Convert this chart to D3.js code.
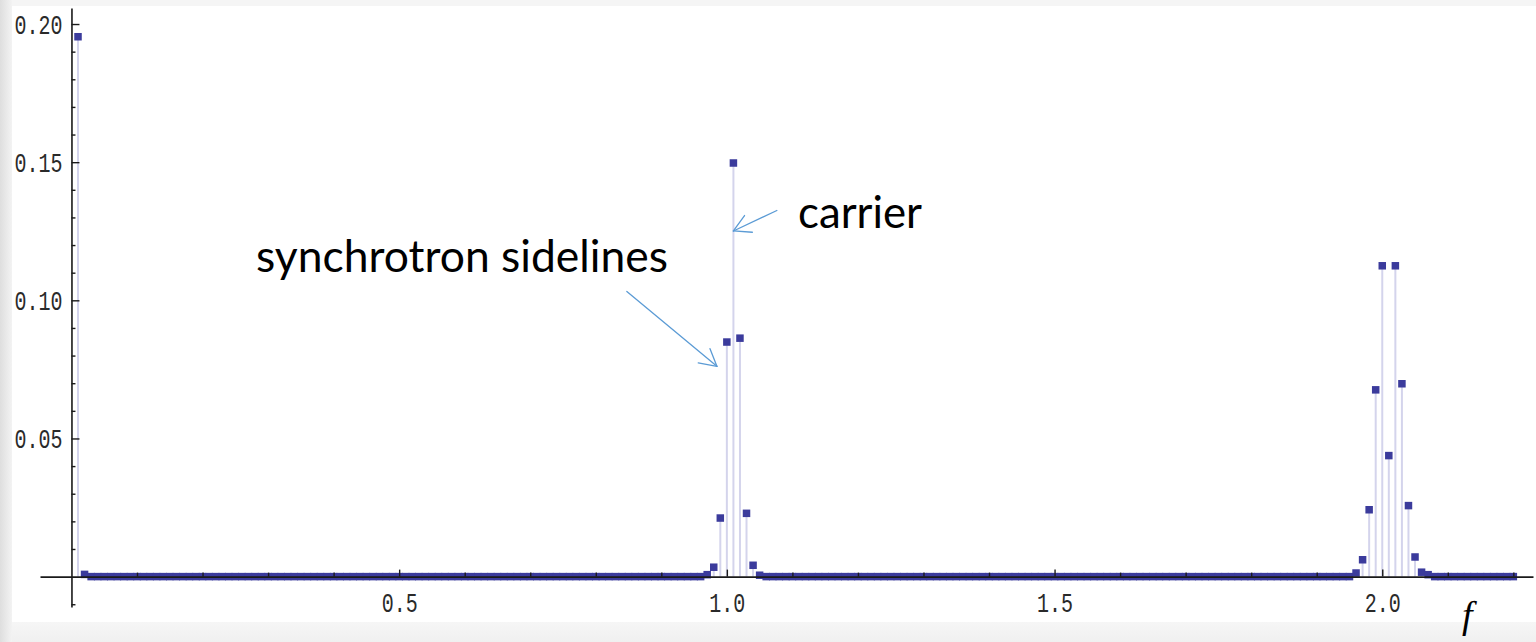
<!DOCTYPE html>
<html>
<head>
<meta charset="utf-8">
<script src="https://cdn.jsdelivr.net/npm/d3@7/dist/d3.min.js"></script>
<style>
  html, body { margin: 0; padding: 0; background: #fff; }
  svg { display: block; }
</style>
</head>
<body>
<svg id="chart" width="1536" height="642"></svg>
<script>
// Spectral bins (frequency step 0.01)
const sampleFreqs = d3.range(1, 221).map(k => k / 100);

// Non-zero spectral lines: frequency and amplitude
const lineFreqs  = [0.01, 0.02,
                    0.97, 0.98, 0.99, 1.00, 1.01, 1.02, 1.03, 1.04, 1.05,
                    1.96, 1.97, 1.98, 1.99, 2.00, 2.01, 2.02, 2.03, 2.04, 2.05, 2.06, 2.07];
const lineValues = [0.1954, 0.0008,
                    0.0007, 0.0034, 0.0212, 0.0849, 0.1497, 0.0863, 0.0229, 0.0041, 0.0005,
                    0.0013, 0.0061, 0.0242, 0.0676, 0.1125, 0.0438, 0.1125, 0.0698, 0.0257, 0.0071, 0.0016, 0.0007];

// Axis ticks
const xMajorTicks  = [0.5, 1.0, 1.5, 2.0];
const xTickLabels  = ["0.5", "1.0", "1.5", "2.0"];
const xMinorTicks  = [0.1, 0.2, 0.3, 0.4, 0.6, 0.7, 0.8, 0.9, 1.1, 1.2, 1.3, 1.4,
                      1.6, 1.7, 1.8, 1.9, 2.1, 2.2];
const yMajorTicks  = [0.05, 0.10, 0.15, 0.20];
const yTickLabels  = ["0.05", "0.10", "0.15", "0.20"];
const yMinorTicks  = [-0.01, 0.01, 0.02, 0.03, 0.04, 0.06, 0.07, 0.08, 0.09,
                      0.11, 0.12, 0.13, 0.14, 0.16, 0.17, 0.18, 0.19];

// Annotation arrows, anchored in data coordinates [f, amplitude]
const annotationTexts = ["carrier", "synchrotron sidelines"];
const arrowTails = [[1.0763, 0.1325], [0.8474, 0.1032]];
const arrowTips  = [[1.0100, 0.1251], [0.9848, 0.0761]];

const spectrum = sampleFreqs.map(f => {
  const i = lineFreqs.findIndex(g => Math.abs(g - f) < 1e-9);
  return { f, v: i >= 0 ? lineValues[i] : 0 };
});

const svg = d3.select("#chart");
const W = 1536, H = 642;

// ---- page frame (soft grey border around the plot image) ----
const defs = svg.append("defs");
const lg = defs.append("linearGradient").attr("id", "leftShade").attr("x1", 0).attr("x2", 1).attr("y1", 0).attr("y2", 0);
lg.append("stop").attr("offset", 0).attr("stop-color", "#dedede");
lg.append("stop").attr("offset", 1).attr("stop-color", "#f3f3f3");
const bg = defs.append("linearGradient").attr("id", "bottomShade").attr("x1", 0).attr("x2", 0).attr("y1", 0).attr("y2", 1);
bg.append("stop").attr("offset", 0).attr("stop-color", "#f6f6f6");
bg.append("stop").attr("offset", 1).attr("stop-color", "#f0f0f0");

svg.append("rect").attr("width", W).attr("height", H).attr("fill", "#fff");
svg.append("rect").attr("x", 0).attr("y", 0).attr("width", W).attr("height", 6).attr("fill", "#f5f5f5");
svg.append("rect").attr("x", 0).attr("y", 622).attr("width", W).attr("height", 20).attr("fill", "url(#bottomShade)");
svg.append("rect").attr("x", 0).attr("y", 0).attr("width", 12).attr("height", H).attr("fill", "url(#leftShade)");

// ---- scales ----
const x = d3.scaleLinear().domain([-0.048, 2.23]).range([40, 1533]);
const y = d3.scaleLinear().domain([-0.011, 0.2058]).range([607, 8]);

// ---- stems ----
svg.append("g").selectAll("line").data(spectrum.filter(d => d.v > 0)).join("line")
  .attr("x1", d => x(d.f)).attr("x2", d => x(d.f))
  .attr("y1", y(0)).attr("y2", d => y(d.v))
  .attr("stroke", "#d4d4ec").attr("stroke-width", 2);

// ---- points ----
const S = 7.5;
svg.append("g").selectAll("rect").data(spectrum).join("rect")
  .attr("x", d => x(d.f) - S / 2).attr("y", d => y(d.v) - S / 2)
  .attr("width", S).attr("height", S)
  .attr("fill", "#3b3b9c");

// ---- axes ----
const labelFont = "'Liberation Mono', 'DejaVu Sans Mono', monospace";
const axisColor = "#1a1a1a";

function styleAxis(g) {
  g.select(".domain").attr("stroke", axisColor).attr("stroke-width", 1.6);
  g.selectAll(".tick line").attr("stroke", axisColor).attr("stroke-width", 1.4);
}

// y axis (labels left, ticks pointing into the plot)
const yAxisG = svg.append("g").attr("transform", `translate(${x(0)},0)`);
yAxisG.call(d3.axisLeft(y).tickValues(yMinorTicks).tickSizeInner(-4).tickSizeOuter(0).tickFormat(""))
  .call(styleAxis);
const yMajorG = svg.append("g").attr("transform", `translate(${x(0)},0)`);
yMajorG.call(d3.axisLeft(y).tickValues(yMajorTicks).tickSizeInner(-8).tickSizeOuter(0)
    .tickFormat((d, i) => yTickLabels[i]))
  .call(styleAxis);
yMajorG.select(".domain").remove();
yMajorG.selectAll(".tick text")
  .attr("x", null).attr("dy", null)
  .attr("transform", "translate(-9,9.5) scale(1,1.42)")
  .attr("text-anchor", "end")
  .style("font-family", labelFont).style("font-size", "20px").attr("fill", "#2a2a2a");

// x axis (labels below, ticks pointing up)
const xAxisG = svg.append("g").attr("transform", `translate(0,${y(0)})`);
xAxisG.call(d3.axisBottom(x).tickValues(xMinorTicks).tickSizeInner(-4).tickSizeOuter(0).tickFormat(""))
  .call(styleAxis);
const xMajorG = svg.append("g").attr("transform", `translate(0,${y(0)})`);
xMajorG.call(d3.axisBottom(x).tickValues(xMajorTicks).tickSizeInner(-7).tickSizeOuter(0)
    .tickFormat((d, i) => xTickLabels[i]))
  .call(styleAxis);
xMajorG.select(".domain").remove();
xMajorG.selectAll(".tick text")
  .attr("y", null).attr("dy", null)
  .attr("transform", "translate(0,35) scale(1,1.42)")
  .attr("text-anchor", "middle")
  .style("font-family", labelFont).style("font-size", "20px").attr("fill", "#2a2a2a");

// axis variable
svg.append("text")
  .attr("x", 1462).attr("y", 628)
  .style("font-family", "'Liberation Serif', 'DejaVu Serif', serif")
  .style("font-style", "italic")
  .style("font-size", "38px")
  .attr("fill", "#000")
  .text("f");

// ---- annotations ----
const textLayout = [
  { x: 798, y: 228, width: 124 },
  { x: 256, y: 272, width: 412 }
];
const annoFont = "Lato, 'Open Sans', sans-serif";
annotationTexts.forEach((t, i) => {
  const L = textLayout[i];
  const el = svg.append("text")
    .attr("x", L.x).attr("y", L.y)
    .style("font-family", annoFont).style("font-size", "100px")
    .attr("fill", "#000").text(t);
  const w = el.node().getComputedTextLength();
  el.style("font-size", (100 * L.width / w).toFixed(2) + "px");
});

const arrowColor = "#5b9bd5";
const headLen = 19, headAngle = 29 * Math.PI / 180;
arrowTails.forEach((tail, i) => {
  const tip = arrowTips[i];
  const x0 = x(tail[0]), y0 = y(tail[1]);
  const x1 = x(tip[0]), y1 = y(tip[1]);
  const back = Math.atan2(y0 - y1, x0 - x1);
  const g = svg.append("g").attr("stroke", arrowColor).attr("stroke-width", 1.3)
    .attr("fill", "none").attr("stroke-linecap", "round");
  g.append("line").attr("x1", x0).attr("y1", y0).attr("x2", x1).attr("y2", y1);
  [-1, 1].forEach(s => {
    g.append("line")
      .attr("x1", x1).attr("y1", y1)
      .attr("x2", x1 + headLen * Math.cos(back + s * headAngle))
      .attr("y2", y1 + headLen * Math.sin(back + s * headAngle));
  });
});
</script>
</body>
</html>
